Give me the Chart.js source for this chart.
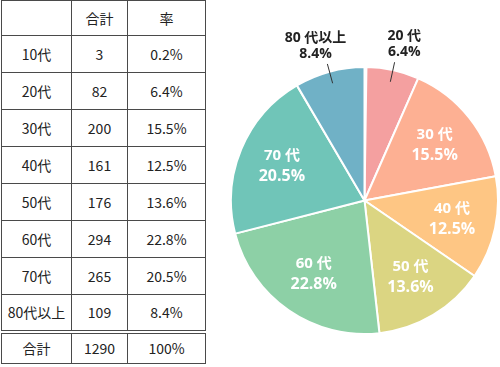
<!DOCTYPE html>
<html>
<head>
<meta charset="utf-8">
<script src="https://cdn.jsdelivr.net/npm/chart.js@4.4.1/dist/chart.umd.min.js"></script>
<style>
html,body{margin:0;padding:0;background:#fff;}
body{width:500px;height:367px;position:relative;overflow:hidden;font-family:"Noto Sans CJK JP","Noto Sans",sans-serif;}
#tbl{position:absolute;left:1px;top:0;border-collapse:collapse;table-layout:fixed;color:#222;font-size:14px;line-height:16px;}
#tbl td{border:1px solid #4a4a4a;text-align:center;padding:0;}
#tbl tr{height:37px;}
#tbl tr.head{height:35px;}
#tbl tr.total{height:32px;}
#tbl tr.total td{border-top:4px double #4a4a4a;}
#wrap{position:absolute;left:228px;top:0;width:272px;height:367px;}
</style>
</head>
<body>
<table id="tbl"><colgroup><col style="width:70px"><col style="width:56px"><col style="width:78px"></colgroup><tbody></tbody></table>
<div id="wrap"><canvas id="pie"></canvas></div>
<script>
var headers=['','合計','率'];
var ages=['10代','20代','30代','40代','50代','60代','70代','80代以上'];
var counts=[3,82,200,161,176,294,265,109];
var rates=['0.2%','6.4%','15.5%','12.5%','13.6%','22.8%','20.5%','8.4%'];
var totalRow=['合計','1290','100%'];
var colors=['#f4a0a0','#f4a0a0','#fdb093','#fec684','#dbd582','#8dd0a6','#70c5b8','#70b1c6'];

(function(){
  var tb=document.querySelector('#tbl tbody');
  function row(cells,cls){
    var tr=document.createElement('tr');if(cls)tr.className=cls;
    cells.forEach(function(c){var td=document.createElement('td');td.textContent=c;tr.appendChild(td);});
    tb.appendChild(tr);
  }
  row(headers,'head');
  ages.forEach(function(a,i){row([a,String(counts[i]),rates[i]]);});
  row(totalRow,'total');
})();

var pieLabels={
  id:'pieLabels',
  afterDatasetsDraw:function(chart){
    var ctx=chart.ctx,meta=chart.getDatasetMeta(0);
    ctx.save();
    ctx.textAlign='center';ctx.textBaseline='middle';
    meta.data.forEach(function(arc,i){
      var pct=parseFloat(rates[i]);if(pct<1)return;
      var p=arc.getProps(['x','y','startAngle','endAngle','outerRadius'],true);
      var a=(p.startAngle+p.endAngle)/2,R=p.outerRadius;
      var c=Math.cos(a),s=Math.sin(a);
      var name=ages[i].replace(/(\d)(代)/,'$1 $2');
      if(pct<10){
        ctx.strokeStyle='#333';ctx.lineWidth=1;
        ctx.beginPath();
        ctx.moveTo(p.x+c*R*0.91,p.y+s*R*0.91);
        ctx.lineTo(p.x+c*R*1.06,p.y+s*R*1.06);
        ctx.stroke();
        var tx=p.x+c*R*1.4,ty=p.y+s*R*1.2;
        ctx.fillStyle='#222';
        ctx.font='bold 14px "Open Sans","Noto Sans CJK JP"';
        ctx.fillText(name,tx,ty-8);
        ctx.fillText(rates[i],tx,ty+8);
      }else{
        var tx2=p.x+c*R*0.67,ty2=p.y+s*R*0.67;
        ctx.fillStyle='#fff';
        ctx.font='bold 15px "Open Sans","Noto Sans CJK JP"';
        ctx.fillText(name,tx2,ty2-10);
        ctx.font='bold 16px "Open Sans","Noto Sans CJK JP"';
        ctx.fillText(rates[i],tx2,ty2+10);
      }
    });
    ctx.restore();
  }
};

new Chart(document.getElementById('pie').getContext('2d'),{
  type:'pie',
  data:{labels:ages,datasets:[{data:counts,backgroundColor:colors,borderColor:'#fff',borderWidth:2}]},
  options:{
    responsive:true,maintainAspectRatio:false,animation:false,
    layout:{padding:{top:66,bottom:32,left:2,right:1}},
    plugins:{legend:{display:false},tooltip:{enabled:false}}
  },
  plugins:[pieLabels]
});
</script>
</body>
</html>
